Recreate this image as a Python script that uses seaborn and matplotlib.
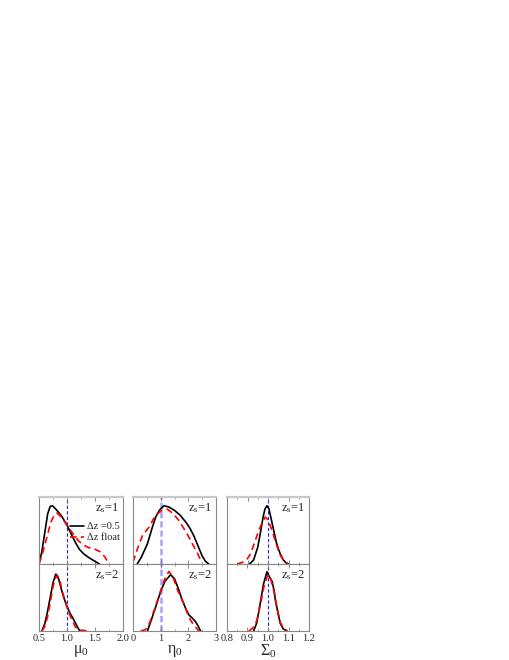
import numpy as np
import pandas as pd
import matplotlib
matplotlib.use("Agg")
import matplotlib.pyplot as plt
import seaborn as sns
from matplotlib.ticker import MultipleLocator

# --- data (x, normalised density) ---
# mu_0, z_s = 1
mu1_x_fix = [0.50, 0.55, 0.60, 0.655, 0.70, 0.74, 0.80, 0.90, 1.00, 1.08, 1.15, 1.22, 1.30, 1.40, 1.50, 1.58]
mu1_y_fix = [0.00, 0.18, 0.45, 0.75, 0.86, 0.87, 0.82, 0.72, 0.58, 0.44, 0.32, 0.22, 0.15, 0.09, 0.04, 0.00]
mu1_x_flt = [0.50, 0.56, 0.625, 0.71, 0.77, 0.82, 0.90, 1.00, 1.10, 1.20, 1.30, 1.40, 1.50, 1.60, 1.68, 1.75]
mu1_y_flt = [0.00, 0.15, 0.35, 0.62, 0.73, 0.76, 0.70, 0.58, 0.46, 0.35, 0.28, 0.24, 0.22, 0.18, 0.10, 0.00]
# mu_0, z_s = 2
mu2_x_fix = [0.55, 0.60, 0.65, 0.70, 0.75, 0.80, 0.85, 0.90, 0.95, 1.00, 1.05, 1.10, 1.15, 1.20, 1.23]
mu2_y_fix = [0.00, 0.10, 0.28, 0.50, 0.72, 0.85, 0.78, 0.62, 0.48, 0.37, 0.27, 0.20, 0.12, 0.04, 0.00]
mu2_x_flt = [0.55, 0.60, 0.65, 0.70, 0.75, 0.80, 0.83, 0.87, 0.92, 0.97, 1.02, 1.08, 1.15, 1.22, 1.30, 1.35]
mu2_y_flt = [0.00, 0.06, 0.20, 0.42, 0.66, 0.80, 0.83, 0.76, 0.58, 0.43, 0.30, 0.18, 0.06, 0.01, 0.01, 0.00]
# eta_0, z_s = 1
eta1_x_fix = [0.15, 0.30, 0.52, 0.70, 0.82, 0.95, 1.12, 1.30, 1.50, 1.70, 1.90, 2.05, 2.20, 2.35, 2.50, 2.62, 2.74]
eta1_y_fix = [0.00, 0.10, 0.30, 0.55, 0.70, 0.80, 0.87, 0.85, 0.80, 0.73, 0.63, 0.54, 0.42, 0.27, 0.12, 0.04, 0.00]
eta1_x_flt = [0.00, 0.10, 0.22, 0.35, 0.58, 0.75, 0.88, 1.05, 1.24, 1.45, 1.66, 1.85, 2.02, 2.20, 2.32, 2.42, 2.50]
eta1_y_flt = [0.03, 0.15, 0.30, 0.43, 0.55, 0.68, 0.75, 0.80, 0.82, 0.75, 0.65, 0.52, 0.40, 0.26, 0.17, 0.08, 0.02]
# eta_0, z_s = 2
eta2_x_fix = [0.52, 0.65, 0.82, 1.00, 1.15, 1.36, 1.50, 1.65, 1.78, 1.90, 2.02, 2.15, 2.26, 2.36, 2.44]
eta2_y_fix = [0.00, 0.15, 0.36, 0.59, 0.74, 0.84, 0.78, 0.62, 0.46, 0.34, 0.24, 0.19, 0.14, 0.07, 0.00]
eta2_x_flt = [0.28, 0.45, 0.60, 0.80, 1.00, 1.15, 1.30, 1.45, 1.62, 1.84, 1.96, 2.08, 2.22, 2.38]
eta2_y_flt = [0.00, 0.02, 0.12, 0.35, 0.60, 0.78, 0.89, 0.80, 0.60, 0.41, 0.27, 0.16, 0.08, 0.00]
# Sigma_0, z_s = 1
sig1_x_fix = [0.91, 0.93, 0.95, 0.962, 0.975, 0.985, 0.995, 1.005, 1.015, 1.028, 1.04, 1.05, 1.06, 1.075, 1.09, 1.10]
sig1_y_fix = [0.00, 0.06, 0.25, 0.45, 0.68, 0.82, 0.87, 0.82, 0.68, 0.50, 0.33, 0.23, 0.15, 0.06, 0.01, 0.00]
sig1_x_flt = [0.85, 0.88, 0.90, 0.914, 0.93, 0.955, 0.975, 0.987, 1.00, 1.02, 1.04, 1.06, 1.08, 1.10]
sig1_y_flt = [0.00, 0.03, 0.08, 0.15, 0.28, 0.50, 0.64, 0.70, 0.66, 0.50, 0.30, 0.13, 0.04, 0.00]
# Sigma_0, z_s = 2
sig2_x_fix = [0.93, 0.945, 0.962, 0.978, 0.995, 1.005, 1.02, 1.03, 1.036, 1.05, 1.06, 1.075, 1.093]
sig2_y_fix = [0.00, 0.12, 0.41, 0.70, 0.885, 0.82, 0.74, 0.60, 0.46, 0.25, 0.11, 0.03, 0.00]
sig2_x_flt = [0.906, 0.925, 0.945, 0.962, 0.98, 0.995, 1.003, 1.015, 1.03, 1.045, 1.06, 1.075, 1.095]
sig2_y_flt = [0.00, 0.04, 0.15, 0.38, 0.66, 0.80, 0.84, 0.76, 0.58, 0.33, 0.13, 0.04, 0.00]

params = ['μ$_\\mathregular{0}$', 'η$_\\mathregular{0}$', 'Σ$_\\mathregular{0}$']
zs_labels = [r'z$_\mathregular{s}$=1', r'z$_\mathregular{s}$=2']
xlims = [(0.5, 2.0), (0.0, 3.0), (0.8, 1.2)]
major = [0.5, 1.0, 0.1]
minor = [0.25, 0.5, 0.05]
tick_fmt = ['{:.1f}', '{:.0f}', '{:.1f}']
legend_labels = ['Δz =0.5', 'Δz float']

curves = [
    [(mu1_x_fix, mu1_y_fix, mu1_x_flt, mu1_y_flt), (mu2_x_fix, mu2_y_fix, mu2_x_flt, mu2_y_flt)],
    [(eta1_x_fix, eta1_y_fix, eta1_x_flt, eta1_y_flt), (eta2_x_fix, eta2_y_fix, eta2_x_flt, eta2_y_flt)],
    [(sig1_x_fix, sig1_y_fix, sig1_x_flt, sig1_y_flt), (sig2_x_fix, sig2_y_fix, sig2_x_flt, sig2_y_flt)],
]

sns.set_theme(style="ticks")
plt.rcParams['font.family'] = ['Liberation Serif', 'DejaVu Serif']
plt.rcParams['mathtext.fontset'] = 'stix'

W, H = 510, 660
fig = plt.figure(figsize=(W / 100, H / 100), dpi=100)

lefts = [39, 133, 227]
widths = [84, 83, 82]
row_top = [497, 564]
row_h = 67

for c in range(3):
    for r in range(2):
        ax = fig.add_axes([lefts[c] / W, 1 - (row_top[r] + row_h) / H, widths[c] / W, row_h / H])
        xf, yf, xr, yr = curves[c][r]
        sns.lineplot(x=xf, y=yf, ax=ax, color='black', lw=1.2, sort=False,
                     label=legend_labels[0] if (c == 0 and r == 0) else None)
        sns.lineplot(x=xr, y=yr, ax=ax, color='red', lw=1.2, sort=False,
                     linestyle=(0, (4, 2.5)),
                     label=legend_labels[1] if (c == 0 and r == 0) else None)
        if c == 1:
            ax.axvline(1.0, color='#a4a4ff', lw=1.8, ls=(0, (2.5, 1.2)), zorder=0)
        else:
            ax.axvline(1.0, color='#2222ee', lw=0.8, ls=(0, (3, 2)), zorder=0)

        ax.set_xlim(*xlims[c])
        ax.set_ylim(0, 1)
        ax.set_yticks([])
        ax.set_ylabel('')
        ax.xaxis.set_major_locator(MultipleLocator(major[c]))
        ax.xaxis.set_minor_locator(MultipleLocator(minor[c]))
        ax.tick_params(axis='x', which='both', direction='in', top=True, bottom=True,
                       color='#777777', labelsize=7.5, pad=2)
        ax.tick_params(axis='x', which='major', length=3, width=0.6)
        ax.tick_params(axis='x', which='minor', length=1.5, width=0.5)
        for s in ax.spines.values():
            s.set_color('#888888')
            s.set_linewidth(0.8)
        if r == 0:
            ax.spines['top'].set_color('#c8c8c8')
            ax.spines['top'].set_linewidth(1.6)
            ax.spines['bottom'].set_color('#555555')
            ax.tick_params(axis='x', labelbottom=False)
        else:
            ticks = np.arange(xlims[c][0], xlims[c][1] + 1e-9, major[c])
            ax.set_xticks(ticks)
            ax.set_xticklabels([tick_fmt[c].format(t) for t in ticks])
            ax.set_xlabel(params[c], fontsize=11.5, labelpad=0)

        ax.text(0.96, 0.94, zs_labels[r], transform=ax.transAxes, ha='right', va='top',
                fontsize=9)

        if c == 0 and r == 0:
            ax.legend(loc='upper right', bbox_to_anchor=(1.04, 0.72), frameon=False,
                      fontsize=7.5, handlelength=1.3, handletextpad=0.3,
                      labelspacing=0.15, borderpad=0.1)
        elif ax.get_legend() is not None:
            ax.get_legend().remove()

fig.savefig('out.png', dpi=100)
